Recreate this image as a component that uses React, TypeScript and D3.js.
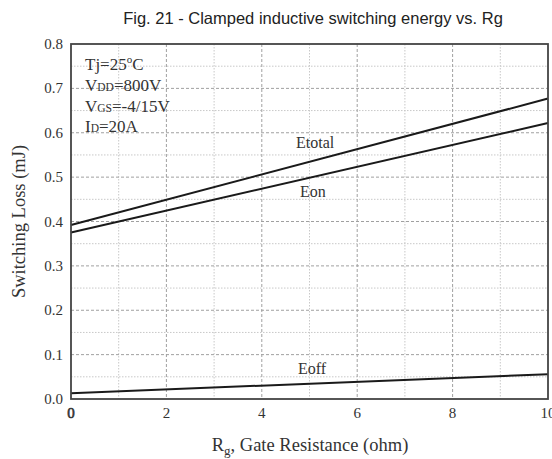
import React from "react";
import * as d3 from "d3";

const rgValues = [0, 10];
const etotalValues = [0.392, 0.677];
const eonValues = [0.375, 0.622];
const eoffValues = [0.013, 0.056];
const xTicks = [0, 2, 4, 6, 8, 10];
const yTicks = [0, 0.1, 0.2, 0.3, 0.4, 0.5, 0.6, 0.7, 0.8];
const xMinor = [1, 3, 5, 7, 9];
const yMinor = [0.05, 0.15, 0.25, 0.35, 0.45, 0.55, 0.65, 0.75];

const W = 552, H = 459;
const L = 71, R = 548, T = 44, B = 399;
const serif = "'Liberation Serif', 'Times New Roman', serif";
const sans = "'Liberation Sans', Arial, sans-serif";

export default function App() {
  const x = d3.scaleLinear().domain([0, 10]).range([L, R]);
  const y = d3.scaleLinear().domain([0, 0.8]).range([B, T]);
  const line = d3.line<[number, number]>().x(d => x(d[0])).y(d => y(d[1]));
  const series = [etotalValues, eonValues, eoffValues].map(v => rgValues.map((r, i) => [r, v[i]] as [number, number]));
  const labels = [
    { t: "Etotal", x: 296, y: 148 },
    { t: "Eon", x: 300, y: 197 },
    { t: "Eoff", x: 298, y: 374 },
  ];
  return (
    <svg width={W} height={H} style={{ position: "absolute", left: 0, top: 0, background: "#fff" }}>
      <rect width={W} height={H} fill="#fff" />
      <text x={313} y={24} textAnchor="middle" fontFamily={sans} fontSize={16.5} fill="#222">
        Fig. 21 - Clamped inductive switching energy vs. Rg
      </text>
      {xMinor.map(v => (
        <line key={"xm" + v} x1={x(v)} x2={x(v)} y1={T} y2={B} stroke="#c8c8c8" strokeWidth={1} strokeDasharray="1.5,1.5" />
      ))}
      {yMinor.map(v => (
        <line key={"ym" + v} x1={L} x2={R} y1={y(v)} y2={y(v)} stroke="#c8c8c8" strokeWidth={1} strokeDasharray="1.5,1.5" />
      ))}
      {xTicks.slice(1, -1).map(v => (
        <line key={"xg" + v} x1={x(v)} x2={x(v)} y1={T} y2={B} stroke="#a0a0a0" strokeWidth={1} strokeDasharray="3,2" />
      ))}
      {yTicks.slice(1, -1).map(v => (
        <line key={"yg" + v} x1={L} x2={R} y1={y(v)} y2={y(v)} stroke="#a0a0a0" strokeWidth={1} strokeDasharray="3,2" />
      ))}
      {series.map((s, i) => (
        <path key={i} d={line(s) || ""} fill="none" stroke="#1a1a1a" strokeWidth={2} />
      ))}
      <rect x={L} y={T} width={R - L} height={B - T} fill="none" stroke="#444" strokeWidth={1.8} />
      {yTicks.map(v => (
        <text key={"yt" + v} x={63} y={y(v) + 5} textAnchor="end" fontFamily={serif} fontSize={15} fill="#333">
          {v.toFixed(1)}
        </text>
      ))}
      {xTicks.map(v => (
        <text key={"xt" + v} x={x(v)} y={418} textAnchor="middle" fontFamily={serif} fontSize={15} fill="#333"
          stroke={v === 0 ? "#333" : "none"} strokeWidth={v === 0 ? 0.6 : 0}>
          {v}
        </text>
      ))}
      <text x={310} y={451} textAnchor="middle" fontFamily={serif} fontSize={18.5} fill="#333">
        R<tspan fontSize={13} dy={4}>g</tspan><tspan dy={-4}>, Gate Resistance (ohm)</tspan>
      </text>
      <text transform={`translate(25, ${(T + B) / 2}) rotate(-90)`} textAnchor="middle" fontFamily={serif} fontSize={18.5} fill="#333">
        Switching Loss (mJ)
      </text>
      {labels.map(l => (
        <text key={l.t} x={l.x} y={l.y} fontFamily={serif} fontSize={16} fill="#333">{l.t}</text>
      ))}
      <g fontFamily={serif} fontSize={17} fill="#333">
        <text x={85} y={70}>Tj=25<tspan fontSize={11} dy={-7}>o</tspan><tspan dy={7}>C</tspan></text>
        <text x={85} y={90.5}>V<tspan fontSize={11.5}>DD</tspan>=800V</text>
        <text x={85} y={111.5}>V<tspan fontSize={11.5}>GS</tspan>=-4/15V</text>
        <text x={85} y={132}>I<tspan fontSize={11.5}>D</tspan>=20A</text>
      </g>
    </svg>
  );
}
